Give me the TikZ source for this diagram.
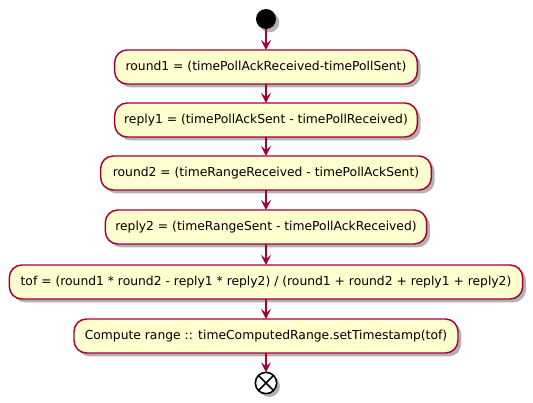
\documentclass[tikz,border=0pt]{standalone}
\usepackage{fontspec}
\setmainfont{DejaVu Sans}
\usetikzlibrary{arrows.meta,shadows}
\definecolor{pumlred}{HTML}{A80036}
\definecolor{pumlfill}{HTML}{FEFECE}
\tikzset{
  px/.style={x=0.75pt,y=-0.75pt},
  actbox/.style={draw=pumlred, fill=pumlfill, line width=1.1pt, rounded corners=9.4pt,
    minimum height=25.5pt, inner sep=0pt, outer sep=0pt, font=\fontsize{9.25pt}{11pt}\selectfont,
    drop shadow={shadow xshift=2.5pt, shadow yshift=-2.5pt, opacity=0.3, fill=black}},
  flow/.style={draw=pumlred, line width=0.9pt, -{Stealth[length=7.5pt,width=7.5pt,inset=3pt]}},
  startdot/.style={circle, fill=black, minimum size=15pt, inner sep=0pt, outer sep=0pt,
    drop shadow={shadow xshift=2.5pt, shadow yshift=-2.5pt, opacity=0.3, fill=black}},
  enddot/.style={circle, draw=black, fill=white, line width=1.2pt, minimum size=16pt, inner sep=0pt, outer sep=0pt,
    drop shadow={shadow xshift=2.5pt, shadow yshift=-2.5pt, opacity=0.3, fill=black}},
}
\begin{document}
\begin{tikzpicture}[px]
\useasboundingbox (0,0) rectangle (533,403);
\node[startdot] (start) at (266,19) {};
\node[actbox, minimum width=227pt] (b1) at (266,67) {round1 = (timePollAckReceived-timePollSent)};
\node[actbox, minimum width=227pt] (b2) at (266,120) {reply1 = (timePollAckSent - timePollReceived)};
\node[actbox, minimum width=248pt] (b3) at (266,173) {round2 = (timeRangeReceived - timePollAckSent)};
\node[actbox, minimum width=241pt] (b4) at (266,227) {reply2 = (timeRangeSent - timePollAckReceived)};
\node[actbox, minimum width=385pt] (b5) at (266,282) {tof = (round1 * round2 - reply1 * reply2) / (round1 + round2 + reply1 + reply2)};
\node[actbox, minimum width=288pt] (b6) at (266,336) {Compute range :: timeComputedRange.setTimestamp(tof)};
\node[enddot] (end) at (266,383) {};
\draw[line width=1.2pt] (end.north west) -- (end.south east);
\draw[line width=1.2pt] (end.north east) -- (end.south west);
\draw[flow] (start) -- (b1);
\draw[flow] (b1) -- (b2);
\draw[flow] (b2) -- (b3);
\draw[flow] (b3) -- (b4);
\draw[flow] (b4) -- (b5);
\draw[flow] (b5) -- (b6);
\draw[flow] (b6) -- (end);
\end{tikzpicture}
\end{document}
